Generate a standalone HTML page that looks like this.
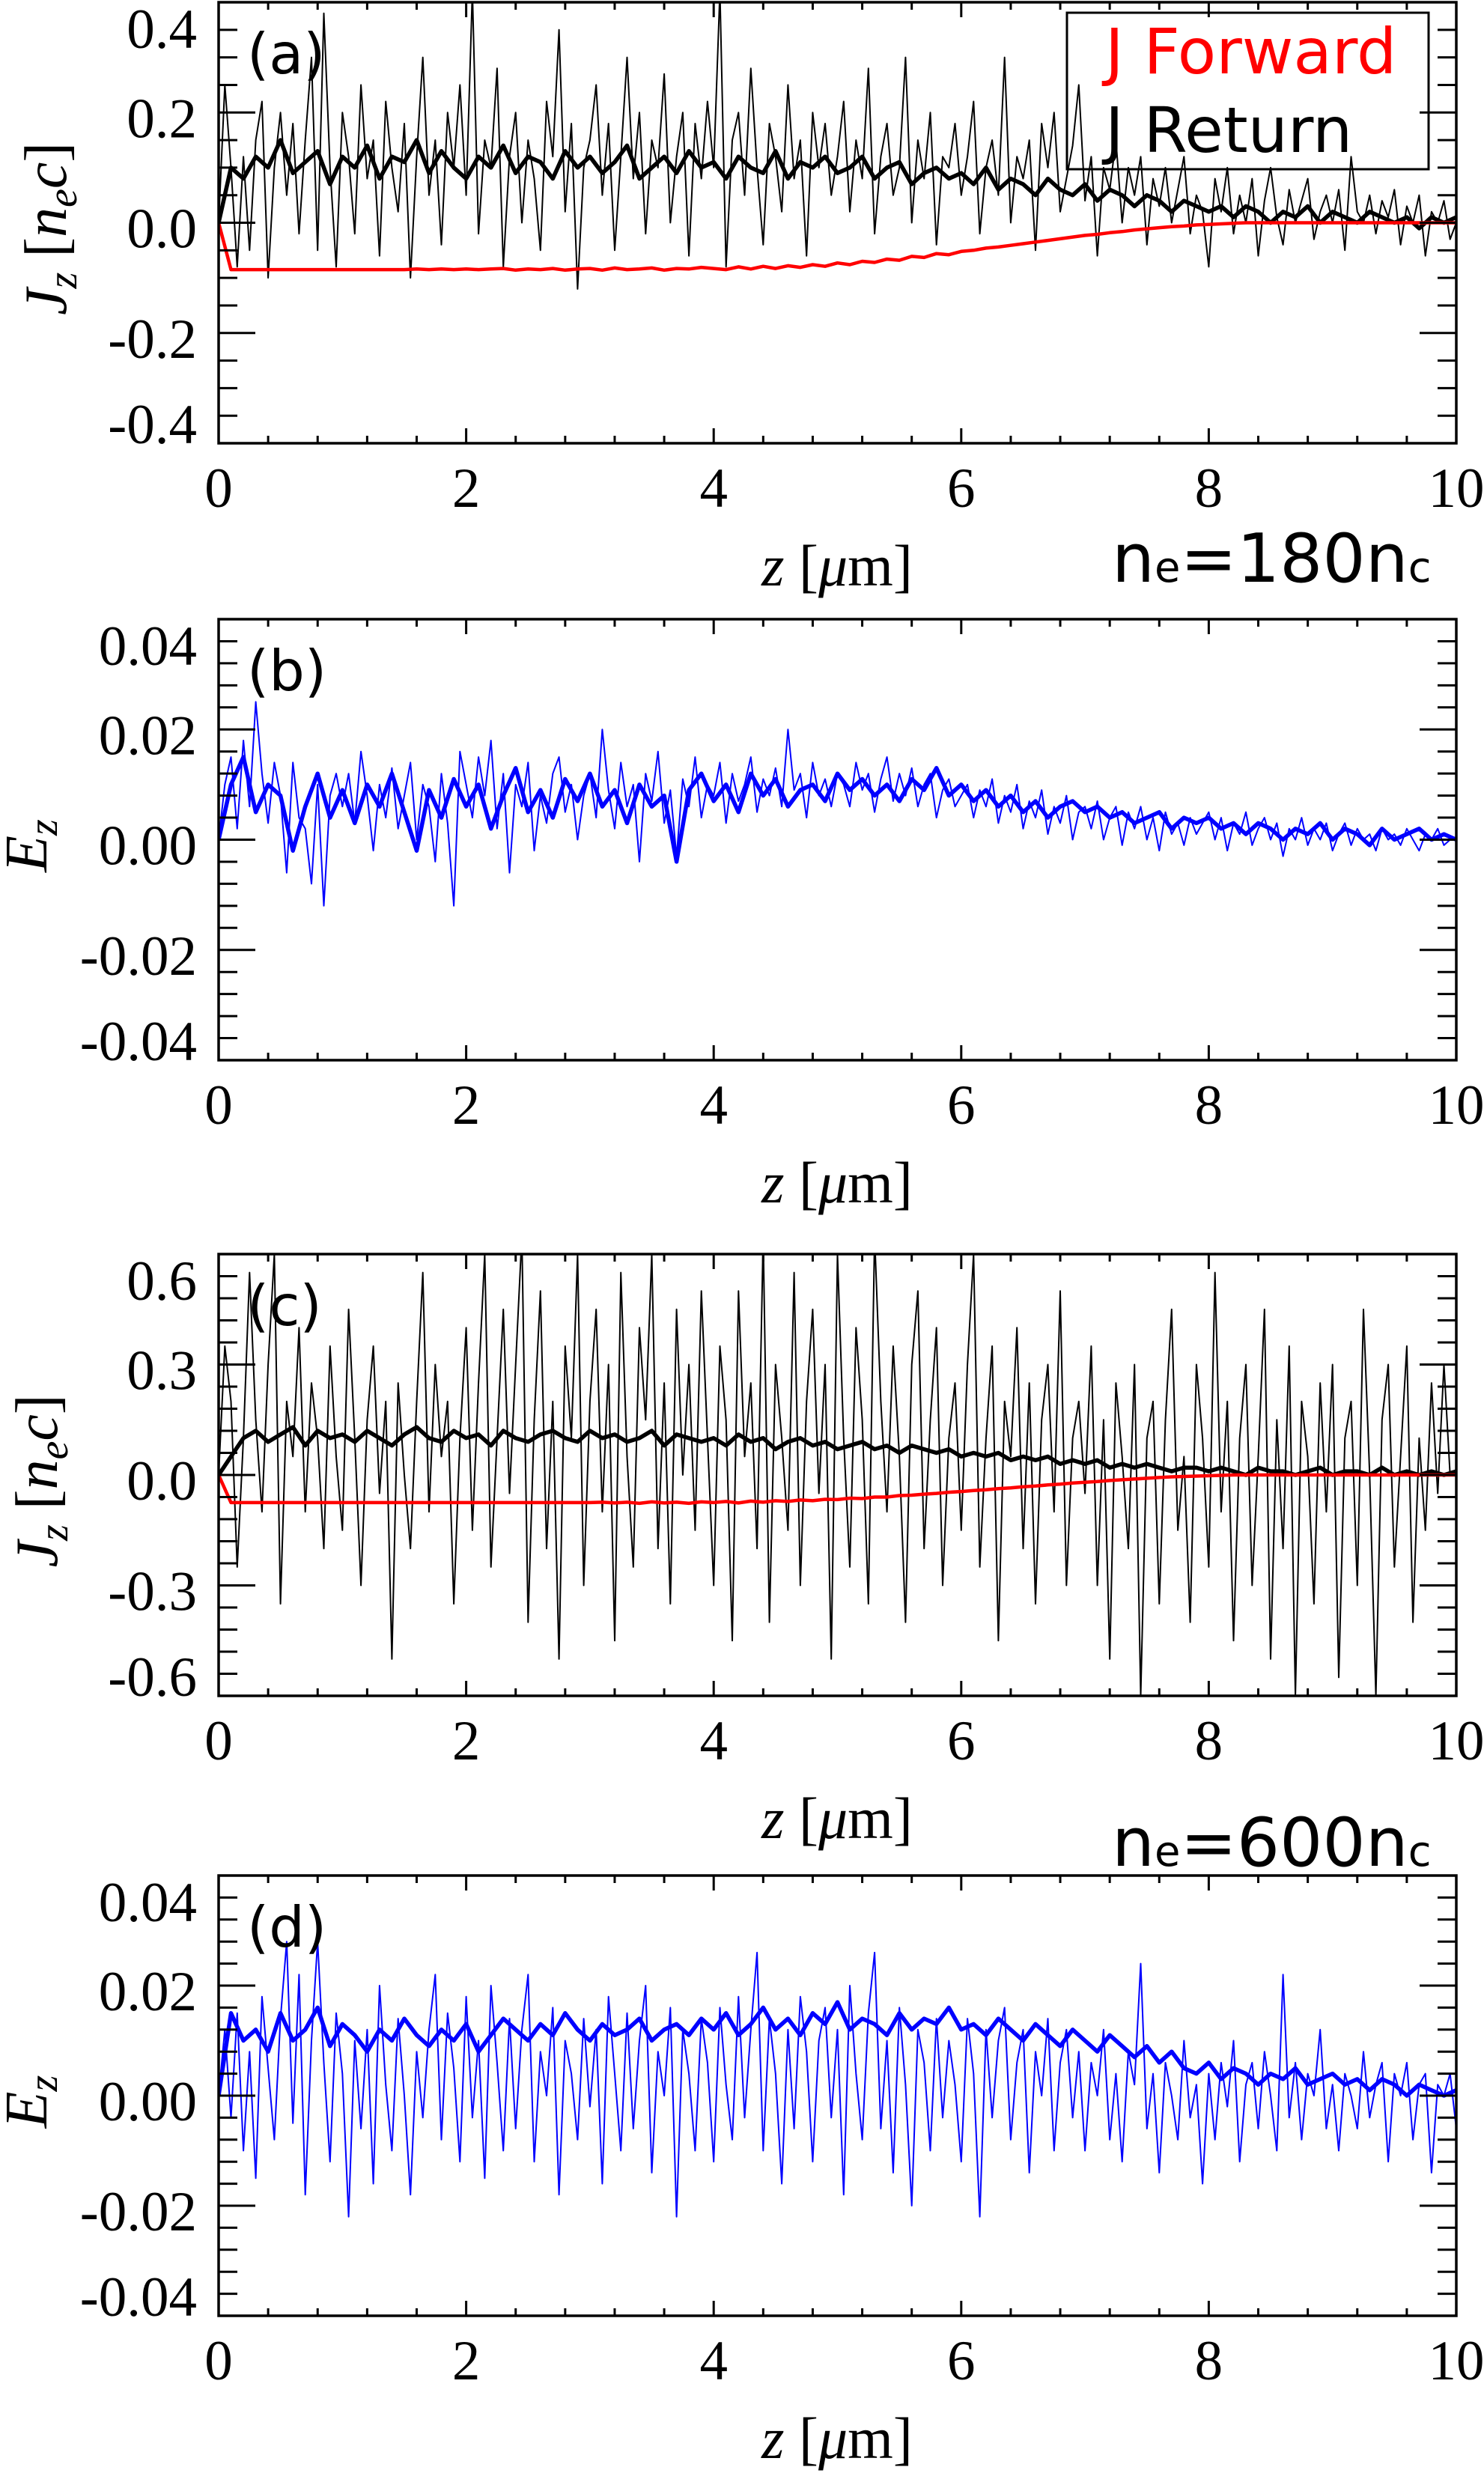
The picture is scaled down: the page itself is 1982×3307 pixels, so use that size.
<!DOCTYPE html>
<html><head><meta charset="utf-8"><style>
html,body{margin:0;padding:0;background:#fff;}
svg{display:block;}
.tk{font-family:"Liberation Serif",serif;font-size:75px;fill:#000;}
.sans{font-family:"DejaVu Sans","Liberation Sans",sans-serif;}
</style></head><body>
<svg id="fig" width="1982" height="3307" viewBox="0 0 1982 3307" xmlns="http://www.w3.org/2000/svg">
  <g font-family="DejaVu Sans, Liberation Sans, sans-serif">
    <rect x="1425" y="17" width="483" height="209" fill="none" stroke="#000" stroke-width="3"/>
    <text x="1476" y="98" font-size="84" fill="#f00">J Forward</text>
    <text x="1476" y="203" font-size="84" fill="#000">J Return</text>
    <text x="1485" y="777" font-size="90" fill="#000">n<tspan font-size="56">e</tspan>=180n<tspan font-size="56">c</tspan></text>
    <text x="1485" y="2492" font-size="90" fill="#000">n<tspan font-size="56">e</tspan>=600n<tspan font-size="56">c</tspan></text>
  </g>
</svg>
<script>
const zThin = 0.05, zThick = 0.1;
const xTickLabels = ["0","2","4","6","8","10"];
const aThin = [0.0,0.25,0.1,-0.08,0.12,-0.05,0.15,0.22,-0.1,0.1,0.2,0.05,0.18,-0.02,0.15,0.3,-0.05,0.38,0.1,-0.08,
0.2,0.12,-0.02,0.25,0.08,0.15,-0.06,0.22,0.1,0.02,0.18,-0.1,0.12,0.3,0.05,0.15,-0.04,0.2,0.1,0.25,
0.05,0.42,-0.02,0.15,0.1,0.28,-0.08,0.12,0.2,0.0,0.15,0.08,-0.05,0.22,0.12,0.35,0.02,0.18,-0.12,0.1,
0.15,0.25,0.05,0.18,-0.05,0.12,0.3,0.08,0.2,-0.02,0.15,0.1,0.27,0.0,0.12,0.2,-0.06,0.18,0.08,0.22,
0.1,0.42,-0.08,0.15,0.2,0.05,0.28,0.1,-0.04,0.18,0.12,0.02,0.25,0.08,0.15,-0.06,0.2,0.1,0.18,0.05,
0.12,0.22,0.02,0.15,0.08,0.28,-0.02,0.12,0.18,0.05,0.1,0.3,0.0,0.15,0.08,0.2,-0.04,0.12,0.1,0.18,
0.05,0.12,0.22,-0.02,0.1,0.15,0.05,0.3,0.0,0.12,0.08,0.15,-0.05,0.18,0.1,0.2,0.02,0.08,0.14,0.25,
0.04,0.12,-0.06,0.1,0.06,0.15,0.0,0.1,0.05,0.12,-0.04,0.08,0.03,0.1,0.0,0.06,0.12,-0.02,0.05,0.02,
-0.08,0.08,0.02,0.1,-0.02,0.05,0.0,0.08,-0.06,0.04,0.1,0.01,-0.04,0.06,0.0,0.04,0.08,-0.03,0.02,0.05,
0.0,0.06,-0.05,0.12,0.02,0.0,0.05,-0.02,0.04,0.01,0.06,-0.04,0.03,0.0,0.05,-0.06,0.02,0.0,0.04,-0.03,0.0];
const aThick = [0,0.1,0.08,0.12,0.1,0.15,0.09,0.11,0.13,0.07,
0.12,0.1,0.14,0.08,0.12,0.11,0.15,0.09,0.13,0.1,
0.08,0.12,0.1,0.14,0.09,0.12,0.11,0.08,0.13,0.1,
0.12,0.09,0.11,0.14,0.08,0.1,0.12,0.09,0.13,0.1,
0.11,0.08,0.12,0.1,0.09,0.13,0.08,0.11,0.1,0.12,
0.09,0.1,0.12,0.08,0.1,0.11,0.07,0.09,0.1,0.08,
0.09,0.07,0.1,0.06,0.08,0.07,0.05,0.08,0.06,0.05,
0.07,0.04,0.06,0.05,0.03,0.05,0.04,0.02,0.04,0.03,
0.02,0.03,0.01,0.03,0.02,0.0,0.02,0.01,0.03,0.0,
0.02,0.01,0.0,0.02,0.01,0.0,0.01,-0.01,0.01,0.0,0.01];
const aRed = [0,-0.085,-0.085,-0.085,-0.085,-0.085,-0.085,-0.085,-0.085,-0.085,
-0.085,-0.085,-0.085,-0.085,-0.085,-0.085,-0.084,-0.085,-0.084,-0.085,
-0.084,-0.085,-0.084,-0.083,-0.086,-0.084,-0.085,-0.083,-0.086,-0.084,
-0.083,-0.086,-0.082,-0.085,-0.084,-0.082,-0.086,-0.083,-0.084,-0.081,
-0.083,-0.085,-0.08,-0.084,-0.079,-0.083,-0.078,-0.081,-0.076,-0.079,
-0.073,-0.076,-0.07,-0.072,-0.066,-0.068,-0.061,-0.063,-0.056,-0.058,
-0.052,-0.05,-0.046,-0.044,-0.041,-0.038,-0.035,-0.032,-0.029,-0.026,
-0.023,-0.021,-0.018,-0.016,-0.013,-0.011,-0.009,-0.007,-0.006,-0.004,
-0.003,-0.002,-0.001,0,0,0,0,0,0,0,
0,0,0,0,0,0,0,0,0,0,0];
const bThin = [0.0,0.01,0.015,0.002,0.018,0.006,0.025,0.012,0.003,0.014,0.008,-0.006,0.014,0.004,0.002,-0.008,0.01,-0.012,0.008,0.012,
0.006,0.012,0.003,0.016,0.008,-0.002,0.01,0.004,0.013,0.002,0.008,0.014,0.0,0.01,0.006,-0.004,0.012,0.003,-0.012,0.016,
0.01,0.004,0.015,0.008,0.018,0.002,0.012,-0.006,0.01,0.006,0.014,-0.002,0.008,0.003,0.012,0.015,0.005,0.01,0.0,0.008,
0.012,0.004,0.02,0.009,0.002,0.014,0.006,0.01,-0.004,0.012,0.007,0.016,0.003,0.009,-0.003,0.011,0.006,0.015,0.004,0.01,
0.008,0.014,0.003,0.012,0.007,0.01,0.015,0.005,0.011,0.008,0.013,0.006,0.02,0.009,0.012,0.004,0.014,0.008,0.011,0.006,
0.012,0.01,0.006,0.014,0.009,0.012,0.005,0.011,0.015,0.007,0.012,0.008,0.013,0.006,0.01,0.012,0.004,0.009,0.011,0.006,
0.008,0.01,0.004,0.009,0.006,0.011,0.003,0.008,0.005,0.01,0.002,0.007,0.004,0.009,0.001,0.006,0.003,0.008,0.0,0.005,
0.006,0.002,0.007,0.0,0.004,0.006,-0.001,0.005,0.002,0.006,0.0,0.004,-0.002,0.005,0.001,0.003,-0.001,0.004,0.001,0.003,
0.005,0.0,0.004,-0.002,0.003,0.001,0.005,-0.001,0.002,0.004,0.0,0.003,-0.003,0.002,0.0,0.004,-0.001,0.002,0.0,0.003,
-0.002,0.001,0.003,-0.001,0.002,0.0,0.001,-0.002,0.002,0.0,0.001,-0.001,0.002,0.0,-0.002,0.001,0.0,0.002,-0.001,0.0,0.0];
const bThick = [0.0,0.01,0.015,0.005,0.01,0.008,-0.002,0.006,0.012,0.004,
0.009,0.003,0.01,0.006,0.012,0.005,-0.002,0.009,0.004,0.011,
0.006,0.01,0.002,0.008,0.013,0.005,0.009,0.004,0.011,0.007,
0.012,0.006,0.009,0.003,0.01,0.006,0.008,-0.004,0.009,0.012,
0.007,0.01,0.005,0.012,0.008,0.011,0.006,0.009,0.01,0.007,
0.012,0.009,0.011,0.008,0.01,0.007,0.011,0.009,0.013,0.008,
0.01,0.007,0.009,0.006,0.008,0.005,0.007,0.004,0.006,0.007,
0.005,0.006,0.004,0.005,0.003,0.004,0.005,0.002,0.004,0.003,
0.004,0.002,0.003,0.001,0.003,0.002,0.0,0.002,0.001,0.003,
0.0,0.002,0.001,-0.001,0.002,0.0,0.001,0.002,0.0,0.001,0.0];
const cThin = [0.0,0.35,0.2,-0.25,0.1,0.55,0.15,-0.1,0.3,0.6,-0.35,0.2,0.05,0.4,-0.1,0.25,0.1,-0.2,0.35,0.05,
-0.15,0.45,0.1,-0.3,0.15,0.35,-0.05,0.2,-0.5,0.25,0.0,-0.2,0.2,0.55,-0.1,0.3,0.05,0.2,-0.35,0.1,
0.4,-0.15,0.25,0.6,-0.25,0.1,0.45,-0.05,0.3,0.65,-0.4,0.15,0.5,-0.2,0.2,-0.5,0.35,0.1,0.6,-0.3,
0.2,0.45,-0.1,0.3,-0.45,0.55,0.05,-0.25,0.4,0.15,0.6,-0.2,0.25,-0.35,0.45,0.0,0.3,-0.15,0.5,0.1,
-0.3,0.35,0.15,-0.45,0.5,0.05,0.25,-0.2,0.65,-0.4,0.3,0.1,-0.15,0.55,-0.3,0.2,0.45,-0.05,0.3,-0.5,
0.6,0.1,-0.25,0.4,0.15,-0.35,0.65,0.2,-0.1,0.35,0.05,-0.4,0.3,0.5,-0.2,0.15,0.4,-0.3,0.1,0.25,
-0.15,0.3,0.6,-0.25,0.1,0.35,-0.45,0.2,0.05,0.4,-0.2,0.25,-0.35,0.15,0.3,-0.1,0.5,-0.3,0.1,0.2,
-0.05,0.35,-0.3,0.15,-0.5,0.25,0.05,-0.2,0.3,-0.6,0.1,0.2,-0.35,0.15,0.45,-0.15,0.05,-0.4,0.3,0.1,
-0.25,0.55,-0.1,0.2,-0.45,0.1,0.3,-0.3,0.05,0.45,-0.5,0.15,-0.2,0.35,-0.6,0.2,0.05,-0.35,0.25,-0.1,
0.3,-0.55,0.1,0.2,-0.3,0.45,0.0,-0.6,0.15,0.3,-0.25,0.05,0.35,-0.4,0.1,-0.15,0.25,-0.05,0.3,0.0,0.0];
const cThick = [0,0.05,0.1,0.12,0.09,0.11,0.13,0.08,0.12,0.1,
0.11,0.09,0.12,0.1,0.08,0.11,0.13,0.1,0.09,0.12,
0.1,0.11,0.08,0.12,0.1,0.09,0.11,0.12,0.1,0.09,
0.12,0.1,0.11,0.09,0.1,0.12,0.08,0.11,0.1,0.09,
0.1,0.08,0.11,0.09,0.1,0.07,0.09,0.1,0.08,0.09,
0.07,0.08,0.09,0.07,0.08,0.06,0.08,0.07,0.06,0.07,
0.05,0.06,0.05,0.06,0.04,0.05,0.04,0.05,0.03,0.04,
0.03,0.04,0.02,0.03,0.02,0.03,0.02,0.01,0.02,0.02,
0.01,0.02,0.01,0.0,0.02,0.01,0.01,0.0,0.01,0.02,
0.0,0.01,0.01,0.0,0.02,0.0,0.01,0.0,0.01,0.0,0.01];
const cRed = [0,-0.075,-0.075,-0.075,-0.075,-0.075,-0.075,-0.075,-0.075,-0.075,
-0.075,-0.075,-0.075,-0.075,-0.075,-0.075,-0.075,-0.075,-0.075,-0.075,
-0.075,-0.075,-0.075,-0.075,-0.075,-0.075,-0.075,-0.075,-0.075,-0.075,
-0.075,-0.074,-0.076,-0.074,-0.077,-0.073,-0.076,-0.074,-0.077,-0.073,
-0.075,-0.072,-0.076,-0.071,-0.074,-0.07,-0.072,-0.068,-0.07,-0.066,
-0.067,-0.063,-0.064,-0.06,-0.06,-0.056,-0.055,-0.052,-0.05,-0.047,
-0.045,-0.042,-0.04,-0.037,-0.035,-0.032,-0.03,-0.027,-0.025,-0.022,
-0.02,-0.018,-0.015,-0.013,-0.011,-0.009,-0.007,-0.005,-0.004,-0.003,
-0.002,-0.001,0,0,0,0,0,0,0,0,
0,0,0,0,0,0,0,0,0,0,0];
const dThin = [0.0,0.012,-0.004,0.015,-0.01,0.008,-0.015,0.018,0.005,-0.008,0.014,0.028,-0.005,0.022,-0.018,0.01,0.028,0.006,-0.012,0.015,
0.004,-0.022,0.01,-0.006,0.012,-0.016,0.02,0.002,-0.01,0.014,0.0,-0.018,0.008,-0.004,0.012,0.022,-0.008,0.015,0.005,-0.012,
0.018,-0.004,0.01,-0.015,0.02,0.006,-0.01,0.014,-0.006,0.012,0.022,-0.012,0.008,0.0,0.016,-0.018,0.01,0.004,-0.008,0.014,
-0.002,0.012,-0.016,0.018,0.004,-0.01,0.015,-0.006,0.01,0.02,-0.014,0.008,0.0,0.016,-0.022,0.012,0.004,-0.01,0.014,0.006,
-0.012,0.016,0.002,-0.008,0.018,-0.004,0.012,0.026,-0.01,0.014,0.004,-0.016,0.012,-0.006,0.018,0.008,-0.012,0.01,0.016,-0.004,
0.012,-0.018,0.02,0.004,-0.008,0.015,0.026,-0.006,0.01,-0.014,0.016,0.002,-0.02,0.012,0.006,-0.01,0.014,-0.004,0.01,0.002,
-0.012,0.014,0.004,-0.022,0.012,-0.004,0.01,0.016,-0.008,0.006,0.012,-0.014,0.008,0.0,0.014,-0.01,0.006,0.012,-0.004,0.008,
-0.01,0.006,0.0,0.012,-0.008,0.004,-0.012,0.008,0.002,0.024,-0.006,0.004,-0.014,0.006,0.0,-0.008,0.01,-0.004,0.002,-0.016,
0.004,-0.008,0.006,-0.002,0.01,-0.012,0.002,0.006,-0.006,0.008,0.0,-0.01,0.022,-0.004,0.006,-0.008,0.004,0.0,0.012,-0.006,
0.002,-0.01,0.004,0.0,-0.006,0.008,-0.004,0.002,0.006,-0.012,0.004,0.0,0.006,-0.008,0.002,0.004,-0.014,0.002,0.0,0.004,-0.006];
const dThick = [0.0,0.015,0.01,0.012,0.008,0.015,0.01,0.012,0.016,0.009,
0.013,0.011,0.008,0.012,0.01,0.014,0.011,0.009,0.012,0.01,
0.013,0.008,0.011,0.014,0.012,0.01,0.013,0.011,0.015,0.012,
0.01,0.013,0.011,0.012,0.014,0.01,0.012,0.013,0.011,0.014,
0.012,0.015,0.011,0.013,0.016,0.012,0.014,0.011,0.015,0.013,
0.017,0.012,0.014,0.013,0.011,0.015,0.012,0.014,0.013,0.016,
0.012,0.013,0.011,0.014,0.012,0.01,0.013,0.011,0.009,0.012,
0.01,0.008,0.011,0.009,0.007,0.009,0.006,0.008,0.005,0.004,
0.006,0.003,0.005,0.004,0.002,0.004,0.003,0.005,0.002,0.003,
0.004,0.002,0.003,0.001,0.003,0.002,0.0,0.002,0.001,0.0,0.001];
const jTicksA = ["0.4","0.2","0.0","-0.2","-0.4"];
const jTicksC = ["0.6","0.3","0.0","-0.3","-0.6"];
const eTicks = ["0.04","0.02","0.00","-0.02","-0.04"];

const NS = "http://www.w3.org/2000/svg";
const svg = document.getElementById("fig");
const X0 = 292, X1 = 1945;
function xs(z){ return X0 + (X1 - X0) * z / 10; }
function mk(tag, attrs, parent){ const e = document.createElementNS(NS, tag); for (const k in attrs) e.setAttribute(k, attrs[k]); (parent||svg).appendChild(e); return e; }

const panels = [
 {id:"a", top:3, bot:592, ymax:0.4, minor:0.05, major:0.2, labels:jTicksA, title:"J", unit:true, tx:62,
  series:[{d:aThin,dz:zThin,c:"#000",w:2,n:"return-current-thin"},{d:aThick,dz:zThick,c:"#000",w:5.5,n:"return-current-thick"},{d:aRed,dz:zThick,c:"#f00",w:4.5,n:"forward-current"}]},
 {id:"b", top:827, bot:1416, ymax:0.04, minor:0.004, major:0.02, labels:eTicks, title:"E", unit:false, tx:36,
  series:[{d:bThin,dz:zThin,c:"#00f",w:2,n:"ez-thin"},{d:bThick,dz:zThick,c:"#00f",w:5.5,n:"ez-thick"}]},
 {id:"c", top:1675, bot:2265, ymax:0.6, minor:0.06, major:0.3, labels:jTicksC, title:"J", unit:true, tx:50,
  series:[{d:cThin,dz:zThin,c:"#000",w:2,n:"return-current-thin"},{d:cThick,dz:zThick,c:"#000",w:5.5,n:"return-current-thick"},{d:cRed,dz:zThick,c:"#f00",w:4.5,n:"forward-current"}]},
 {id:"d", top:2505, bot:3093, ymax:0.04, minor:0.004, major:0.02, labels:eTicks, title:"E", unit:false, tx:36,
  series:[{d:dThin,dz:zThin,c:"#00f",w:2,n:"ez-thin"},{d:dThick,dz:zThick,c:"#00f",w:5.5,n:"ez-thick"}]}
];

panels.forEach(p => {
  const g = mk("g", {});
  
  
  const ys = v => p.top + (p.bot - p.top) * (p.ymax - v) / (2 * p.ymax);
  const clipId = "clip" + p.id;
  const cp = mk("clipPath", {id: clipId}, g);
  mk("rect", {x: X0, y: p.top, width: X1 - X0, height: p.bot - p.top}, cp);
  const sg = mk("g", {"clip-path": "url(#" + clipId + ")"}, g);
  p.series.forEach(s => {
    const pts = s.d.map((v, i) => xs(i * s.dz).toFixed(1) + "," + ys(Math.max(-p.ymax*1.2, Math.min(p.ymax*1.2, v))).toFixed(1)).join(" ");
    const pl = mk("polyline", {points: pts, fill: "none", stroke: s.c, "stroke-width": s.w, "stroke-linejoin": "round"}, sg);
    
    
  });
  const nMinor = Math.round(2 * p.ymax / p.minor);
  for (let i = 0; i <= nMinor; i++) {
    const v = -p.ymax + i * p.minor;
    const y = ys(v);
    const isMaj = Math.abs(v / p.major - Math.round(v / p.major)) < 1e-6;
    const L = isMaj ? 49 : 25;
    mk("line", {x1: X0, x2: X0 + L, y1: y, y2: y, stroke: "#000", "stroke-width": 3}, g);
    mk("line", {x1: X1, x2: X1 - L, y1: y, y2: y, stroke: "#000", "stroke-width": 3}, g);
  }
  p.labels.forEach((t, i) => {
    const v = p.ymax - i * p.major;
    let c = ys(v) + 8;
    c = Math.max(p.top + 36, Math.min(p.bot - 25, c));
    const tx = mk("text", {x: 263, y: c + 25, "text-anchor": "end", class: "tk"}, g);
    tx.textContent = t;
    
    
  });
  for (let i = 0; i <= 25; i++) {
    const x = xs(i * 0.4);
    const L = (i % 5 === 0) ? 20 : 10;
    mk("line", {x1: x, x2: x, y1: p.bot, y2: p.bot - L, stroke: "#000", "stroke-width": 3}, g);
    mk("line", {x1: x, x2: x, y1: p.top, y2: p.top + L, stroke: "#000", "stroke-width": 3}, g);
  }
  xTickLabels.forEach((t, i) => {
    const tx = mk("text", {x: xs(i * 2), y: p.bot + 85, "text-anchor": "middle", class: "tk"}, g);
    tx.textContent = t;
    
    
  });
  const box = mk("rect", {x: X0, y: p.top, width: X1 - X0, height: p.bot - p.top, fill: "none", stroke: "#000", "stroke-width": 3.5}, g);
  
  
  const xt = mk("text", {x: 1118, y: p.bot + 190, "text-anchor": "middle", class: "tk", style: "font-size:78px"}, g);
  xt.innerHTML = '<tspan font-style="italic">z</tspan> [<tspan font-style="italic">μ</tspan>m]';
  
  
  const cy = (p.top + p.bot) / 2 + 8;
  const yt = mk("text", {x: 0, y: 0, "text-anchor": "middle", class: "tk", style: "font-size:80px", transform: "translate(" + (p.tx + 26) + "," + cy + ") rotate(-90)"}, g);
  yt.innerHTML = p.unit
    ? '<tspan font-style="italic">J</tspan><tspan font-style="italic" font-size="56" dy="14">z</tspan><tspan dy="-14"> [</tspan><tspan font-style="italic">n</tspan><tspan font-style="italic" font-size="56" dy="14">e</tspan><tspan font-style="italic" dy="-14">c</tspan>]'
    : '<tspan font-style="italic">E</tspan><tspan font-style="italic" font-size="56" dy="14">z</tspan>';
  
  
  const pl = mk("text", {x: 330, y: p.top + 95, class: "sans", "font-size": 75}, g);
  pl.textContent = "(" + p.id + ")";
  
  
});
</script>
</body></html>
